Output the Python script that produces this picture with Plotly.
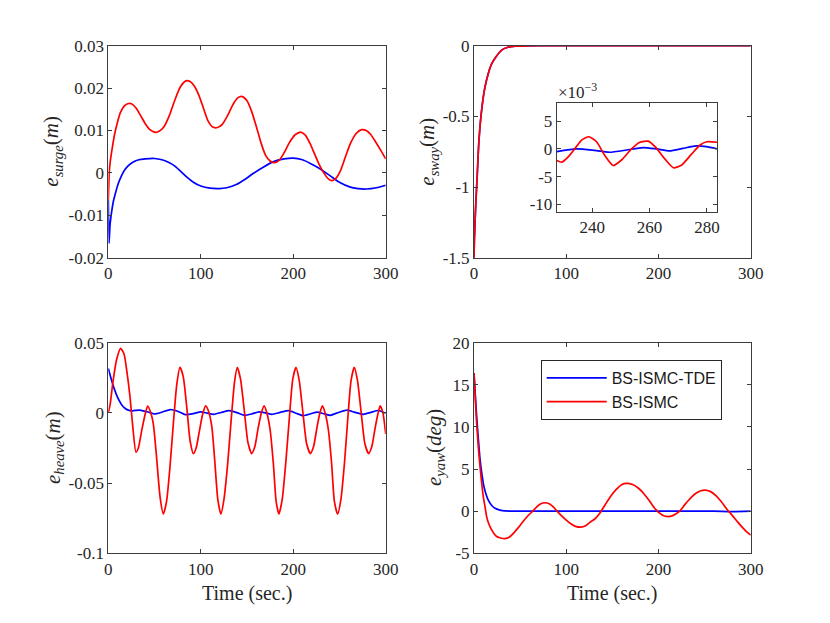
# Errors de seguiment (surge, sway, heave, yaw) per BS-ISMC-TDE i BS-ISMC
import plotly.graph_objects as go

# ---- dades llegides de la figura ----
series_names = ["BS-ISMC-TDE", "BS-ISMC"]

surge_t_tde = [0, 0.8, 1.8, 3.6, 5.4, 7.2, 10.8, 14, 18, 22, 27, 33, 40, 50, 58, 65, 72, 78,
               85, 92, 100, 110, 120, 128, 139, 148, 157, 168, 178, 190, 200, 210, 218, 228,
               240, 250, 261, 270, 279, 290, 300]
surge_tde = [-0.0064, -0.0166, -0.0125, -0.0092, -0.0068, -0.0052, -0.0025, -0.0008, 0.0008,
             0.0018, 0.0026, 0.0031, 0.0033, 0.0034, 0.0031, 0.0025, 0.0016, 0.0004, -0.0010,
             -0.0022, -0.0031, -0.0036, -0.0037, -0.0035, -0.0027, -0.0015, -0.0001, 0.0014,
             0.0026, 0.0033, 0.0035, 0.0031, 0.0023, 0.0011, -0.0007, -0.0022, -0.0033,
             -0.0037, -0.0038, -0.0035, -0.0029]

surge_t_ismc = [0, 0.5, 1, 2, 4, 7, 10, 13, 17, 21, 25, 30, 35, 40, 45, 50, 55, 60, 66, 72, 78,
                84, 88, 93, 98, 103, 108, 113, 118, 123, 129, 135, 140, 145, 150, 155, 160, 165,
                170, 175, 180, 185, 190, 196, 202, 208, 213, 218, 223, 228, 233, 238, 242, 246,
                251, 256, 262, 268, 274, 279, 284, 290, 295, 300]
surge_ismc = [-0.0064, -0.003, 0.0, 0.0025, 0.0055, 0.0093, 0.0120, 0.0142, 0.0157, 0.0163,
              0.0163, 0.0153, 0.0135, 0.0116, 0.0102, 0.0096, 0.0098, 0.0108, 0.0135, 0.0172,
              0.0203, 0.0217, 0.0216, 0.0205, 0.0183, 0.0152, 0.0122, 0.0108, 0.0107, 0.0114,
              0.0135, 0.0162, 0.0177, 0.0180, 0.0170, 0.0145, 0.0110, 0.0072, 0.0042, 0.0028,
              0.0024, 0.0030, 0.0047, 0.0072, 0.0090, 0.0096, 0.0089, 0.0070, 0.0045, 0.0020,
              0.0000, -0.0014, -0.0018, -0.0013, 0.0005, 0.0035, 0.0070, 0.0093, 0.0102, 0.0100,
              0.0090, 0.0070, 0.0052, 0.0033]

sway_t = [0, 0.4, 1.8, 3.6, 5.4, 8.7, 12, 15.5, 19, 23.9, 30, 36, 45, 55, 70, 100, 150, 200,
          250, 300]
sway_tde = [-1.5, -1.375, -1.14, -0.903, -0.667, -0.432, -0.29, -0.196, -0.13, -0.078, -0.031,
            -0.013, -0.004, -0.001, 0, 0, 0, 0, 0, 0]
sway_ismc = [-1.5, -1.375, -1.14, -0.903, -0.667, -0.432, -0.29, -0.196, -0.13, -0.078, -0.031,
             -0.013, -0.004, -0.001, 0, 0, 0, 0, 0, 0]

# zoom (x10^-3)
inset_t_tde = [227.6, 234.5, 240, 246, 252, 257.7, 262.4, 267, 271.6, 276.3, 279.8, 283.5]
inset_tde = [-0.5, 0.0, -0.2, -0.6, -0.2, 0.25, 0.0, -0.35, 0.1, 0.55, 0.4, 0.0]
inset_t_ismc = [227.6, 229.4, 231.7, 234, 236.3, 238.8, 241.5, 244.4, 247.3, 250.2, 253.7,
                256.6, 259.5, 261.9, 265.3, 268.3, 271.2, 274.7, 277.6, 280, 283.5]
inset_ismc = [-2.1, -2.4, -1.4, 0.1, 1.6, 2.2, 1.3, -1.2, -3.0, -2.0, 0.0, 1.2, 1.4, 0.4,
              -1.8, -3.4, -2.9, -0.9, 0.7, 1.3, 1.2]

heave_t_tde = [0, 1.5, 3.6, 6, 9, 12, 14.4, 18, 21.6, 26, 34, 42, 50, 58, 67, 75, 83, 92, 100,
               107, 114, 122, 131, 139, 147, 155, 163, 170, 177, 186, 195, 203, 211, 219, 226,
               233, 240, 249, 258, 266, 276, 284, 292, 300]
heave_tde = [0.0317, 0.028, 0.023, 0.018, 0.0127, 0.0085, 0.0058, 0.0033, 0.0020, 0.0015,
             0.0020, 0.0008, -0.0008, 0.0005, 0.0024, 0.0012, -0.0012, -0.0005, 0.0008,
             -0.0002, -0.0010, 0.0003, 0.0016, 0.0002, -0.0017, -0.0008, 0.0008, 0.0000,
             -0.0010, 0.0004, 0.0016, -0.0002, -0.0020, -0.0006, 0.0006, -0.0006, -0.0017,
             0.0003, 0.0020, 0.0006, -0.0010, 0.0004, 0.0017, -0.0003]

heave_t_ismc = [0, 2, 5, 9, 13.3, 17, 20, 23.4, 26.5, 29.9, 32.5, 36, 39.5, 42.5, 45.5, 48.7,
                52, 56, 59.5, 63, 66.5, 70.3, 74, 77.5, 81, 85, 88.5, 92, 95, 98.5, 102, 105.3,
                108.5, 112, 115, 118.5, 121.8, 125, 129, 133, 136.5, 139.5, 143, 147, 151, 155,
                158.5, 162, 165.5, 168.5, 171.5, 175, 178.5, 181.5, 184.5, 188, 192, 196, 199.5,
                203, 206.5, 210.5, 214.5, 218.5, 222, 225.5, 228.5, 231.5, 234.5, 238, 241.5,
                244.5, 248, 251.5, 255.5, 259, 262.5, 266, 269.5, 273.5, 277.5, 281.5, 285,
                288.5, 291.5, 294, 297, 300]
heave_ismc = [0.000, 0.006, 0.022, 0.038, 0.046, 0.042, 0.030, 0.012, -0.010, -0.028, -0.025,
              -0.013, -0.002, 0.0049, 0.001, -0.008, -0.030, -0.060, -0.072, -0.063, -0.040,
              -0.008, 0.020, 0.0324, 0.026, 0.003, -0.020, -0.029, -0.025, -0.013, -0.001,
              0.005, 0.001, -0.010, -0.033, -0.062, -0.072, -0.062, -0.037, -0.004, 0.022,
              0.0324, 0.024, 0.002, -0.021, -0.029, -0.024, -0.011, 0.000, 0.005, 0.000,
              -0.012, -0.036, -0.063, -0.072, -0.062, -0.035, -0.002, 0.024, 0.0324, 0.023,
              0.000, -0.022, -0.029, -0.024, -0.011, -0.001, 0.005, 0.000, -0.012, -0.036,
              -0.063, -0.072, -0.062, -0.035, -0.004, 0.023, 0.0324, 0.023, 0.000, -0.022,
              -0.029, -0.024, -0.011, -0.001, 0.005, 0.000, -0.015]

yaw_t_tde = [0, 1, 2.9, 4.7, 6.5, 8.3, 10.1, 12, 15.5, 19, 22.8, 28, 33.6, 45, 60, 80, 100,
             120, 140, 160, 180, 200, 220, 240, 260, 280, 300]
yaw_tde = [16.4, 14.6, 11.2, 8.6, 6.2, 4.6, 3.3, 2.4, 1.3, 0.7, 0.34, 0.13, 0.03, 0.0, 0.0,
           0.0, 0.0, 0.0, 0.0, 0.0, 0.0, 0.0, 0.0, 0.0, 0.0, -0.05, 0.0]

yaw_t_ismc = [0, 1.5, 2.9, 4.7, 6.5, 8.3, 10.1, 12, 13.7, 16, 19, 22, 24.6, 28, 33.6, 38,
              43, 48, 53, 58, 63.6, 68, 72, 77, 82, 86, 90, 95, 100, 105, 110, 115.6, 121,
              126, 131, 136, 142, 148, 154, 160, 166, 172, 178, 184, 190, 196,
              204, 210.5, 216, 223, 229, 235, 241, 246, 250.4, 256, 262, 268, 274, 280,
              286, 292, 296, 300]
yaw_ismc = [16.4, 13.2, 10.4, 7.6, 5.3, 3.4, 1.7, 0.5, -0.65, -1.5, -2.2, -2.7, -3.0, -3.15,
            -3.26, -3.1, -2.6, -1.95, -1.25, -0.6, 0.0, 0.5, 0.85, 1.0, 0.85, 0.5, 0.0,
            -0.55, -1.05, -1.5, -1.8, -1.9, -1.73, -1.3, -0.93, -0.31, 0.73, 1.75, 2.55,
            3.15, 3.3, 3.16, 2.75, 2.1, 1.26, 0.32, -0.45, -0.65, -0.5, 0.0, 0.84, 1.59,
            2.15, 2.42, 2.5, 2.35, 1.88, 1.15, 0.26, -0.5, -1.3, -2.05, -2.5, -2.85]

# etiquetes dels eixos
time_ticks = [0, 100, 200, 300]
surge_ticks = [-0.02, -0.01, 0, 0.01, 0.02, 0.03]
surge_ticktext = ["-0.02", "-0.01", "0", "0.01", "0.02", "0.03"]
sway_ticks = [-1.5, -1, -0.5, 0]
sway_ticktext = ["-1.5", "-1", "-0.5", "0"]
heave_ticks = [-0.1, -0.05, 0, 0.05]
heave_ticktext = ["-0.1", "-0.05", "0", "0.05"]
yaw_ticks = [-5, 0, 5, 10, 15, 20]
yaw_ticktext = ["-5", "0", "5", "10", "15", "20"]
inset_xticks = [240, 260, 280]
inset_yticks = [-10, -5, 0, 5]
inset_yticktext = ["-10", "-5", "0", "5"]

colors = ["#0000ff", "#ff0000"]
W, H = 830, 623

fig = go.Figure()


def afegeix(tt, yy, k, xa, ya, legend=False):
    fig.add_trace(go.Scatter(x=tt, y=yy, mode="lines", name=series_names[k],
                             line=dict(color=colors[k], width=1.7, shape="spline", smoothing=0.6),
                             xaxis=xa, yaxis=ya, showlegend=legend))


afegeix(surge_t_tde, surge_tde, 0, "x", "y")
afegeix(surge_t_ismc, surge_ismc, 1, "x", "y")
afegeix(sway_t, sway_tde, 0, "x2", "y2")
afegeix(sway_t, sway_ismc, 1, "x2", "y2")
afegeix(heave_t_tde, heave_tde, 0, "x3", "y3")
afegeix(heave_t_ismc, heave_ismc, 1, "x3", "y3")
afegeix(yaw_t_tde, yaw_tde, 0, "x4", "y4", True)
afegeix(yaw_t_ismc, yaw_ismc, 1, "x4", "y4", True)
afegeix(inset_t_tde, inset_tde, 0, "x5", "y5")
afegeix(inset_t_ismc, inset_ismc, 1, "x5", "y5")

tickfont = dict(family="Liberation Serif", size=17, color="#262626")
base = dict(showline=True, linecolor="#3c3c3c", linewidth=1, mirror="ticks", ticks="inside",
            ticklen=4, tickcolor="#3c3c3c", showgrid=False, zeroline=False, tickfont=tickfont,
            automargin=False)

# dominis en pixels -> fraccio del paper
def dx(a, b):
    return [a / W, b / W]


def dy(top, bottom):
    return [1 - bottom / H, 1 - top / H]


fig.update_layout(
    template="none",
    width=W, height=H, autosize=False,
    margin=dict(l=0, r=0, t=0, b=0, pad=0, autoexpand=False),
    paper_bgcolor="white", plot_bgcolor="white",
    xaxis=dict(base, domain=dx(108.3, 385.7), anchor="y", range=[0, 300], tickvals=time_ticks),
    yaxis=dict(base, domain=dy(45.7, 257.7), anchor="x", range=[-0.02, 0.03],
               tickvals=surge_ticks, ticktext=surge_ticktext),
    xaxis2=dict(base, domain=dx(474, 750.7), anchor="y2", range=[0, 300], tickvals=time_ticks),
    yaxis2=dict(base, domain=dy(45.7, 257.7), anchor="x2", range=[-1.5, 0],
                tickvals=sway_ticks, ticktext=sway_ticktext),
    xaxis3=dict(base, domain=dx(108.3, 385.7), anchor="y3", range=[0, 300], tickvals=time_ticks),
    yaxis3=dict(base, domain=dy(342.7, 553.3), anchor="x3", range=[-0.1, 0.05],
                tickvals=heave_ticks, ticktext=heave_ticktext),
    xaxis4=dict(base, domain=dx(474, 750.7), anchor="y4", range=[0, 300], tickvals=time_ticks),
    yaxis4=dict(base, domain=dy(342.7, 553.3), anchor="x4", range=[-5, 20],
                tickvals=yaw_ticks, ticktext=yaw_ticktext),
    xaxis5=dict(base, domain=dx(556.7, 717), anchor="y5", range=[227.6, 283.5],
                tickvals=inset_xticks),
    yaxis5=dict(base, domain=dy(103, 212), anchor="x5", range=[-11.4, 8.3],
                tickvals=inset_yticks, ticktext=inset_yticktext),
    showlegend=True,
    legend=dict(x=540.7 / W, y=1 - 360 / H, xanchor="left", yanchor="top",
                bgcolor="white", bordercolor="#262626", borderwidth=1,
                tracegroupgap=0, itemwidth=60,
                font=dict(family="Liberation Sans", size=16, color="#1a1a1a")),
)

ylab = dict(family="Liberation Serif", size=21, color="#262626")
ytitles = [
    ("<i>e</i><sub><i>surge</i></sub>(<i>m</i>)", 52, 151.7),
    ("<i>e</i><sub><i>sway</i></sub>(<i>m</i>)", 428, 151.7),
    ("<i>e</i><sub><i>heave</i></sub>(<i>m</i>)", 54, 448),
    ("<i>e</i><sub><i>yaw</i></sub>(<i>deg</i>)", 435, 448),
]
for txt, px_, py_ in ytitles:
    fig.add_annotation(text=txt, x=px_ / W, y=1 - py_ / H, xref="paper", yref="paper",
                       textangle=-90, showarrow=False, font=ylab,
                       xanchor="center", yanchor="middle")

for cx in [247, 612.3]:
    fig.add_annotation(text="Time (sec.)", x=cx / W, y=1 - 593 / H, xref="paper", yref="paper",
                       showarrow=False, font=dict(family="Liberation Serif", size=20, color="#262626"),
                       xanchor="center", yanchor="middle")

fig.add_annotation(text="×10<sup>−3</sup>", x=556 / W, y=1 - 91 / H, xref="paper", yref="paper",
                   showarrow=False, font=dict(family="Liberation Serif", size=17, color="#262626"),
                   xanchor="left", yanchor="middle")

# sense el marge per defecte del body, la figura omple la finestra
fig.write_html("out.html", config={"displayModeBar": False},
               post_script="document.body.style.margin='0';")
